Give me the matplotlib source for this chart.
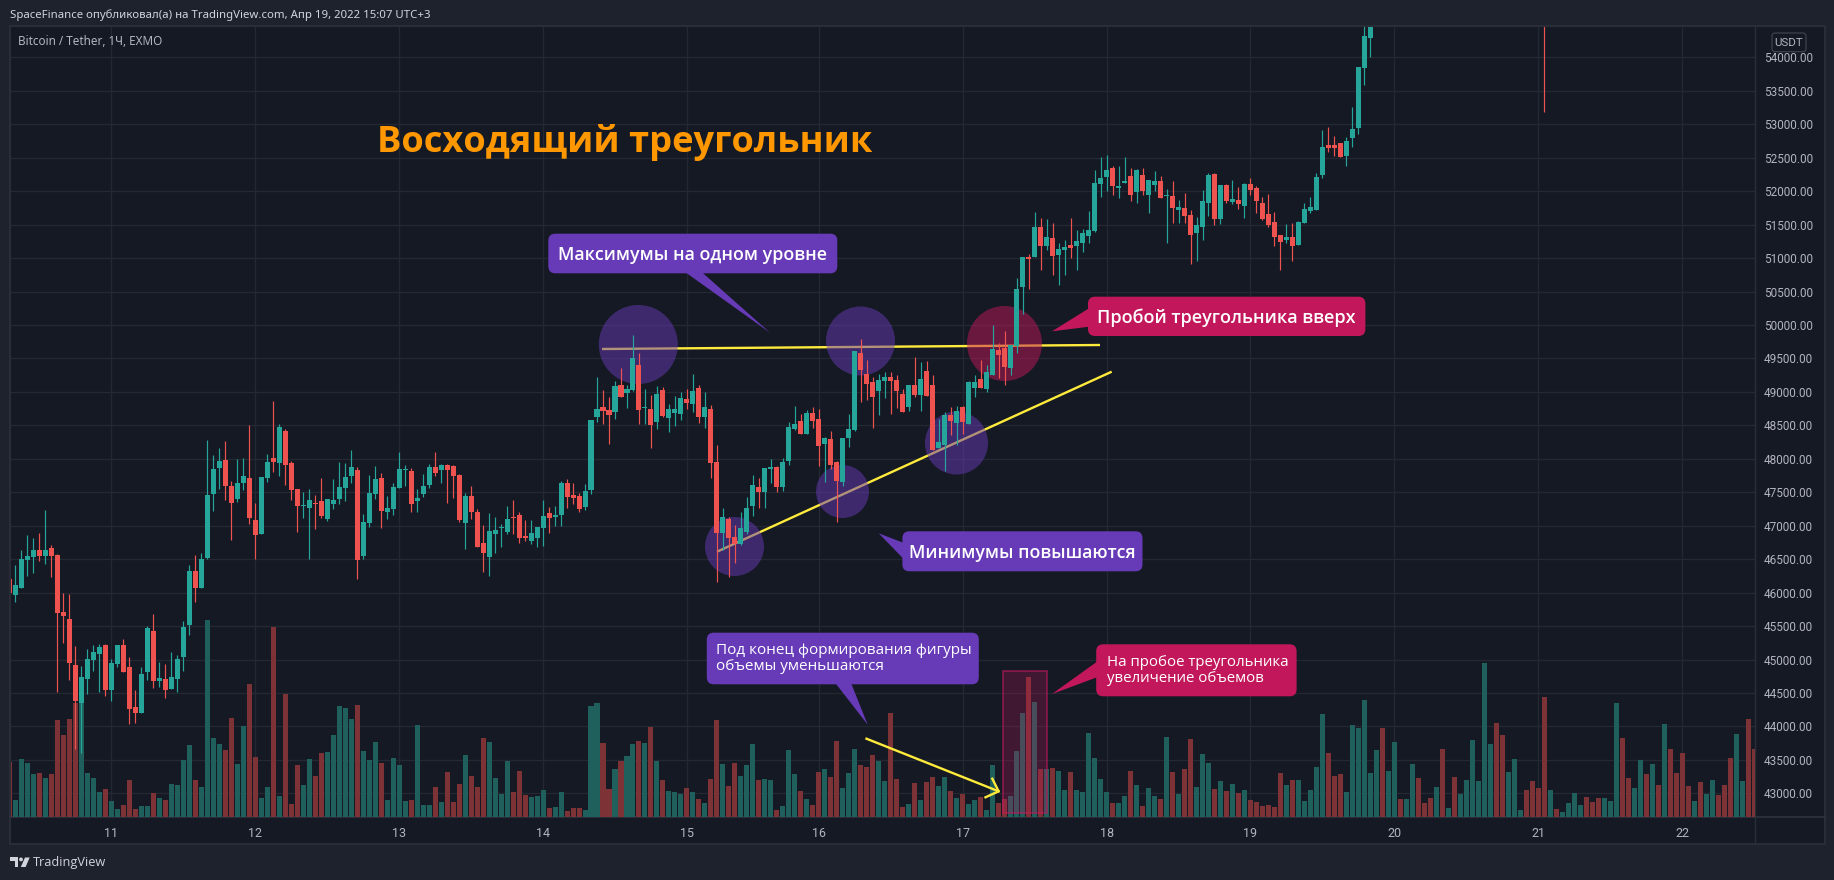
import matplotlib
matplotlib.use("Agg")
import matplotlib.pyplot as plt
from matplotlib.patches import FancyBboxPatch, Polygon, Ellipse, Rectangle, Circle
import numpy as np

# ---------- data ----------
directions = ("RGGGGRGRRR" "RRGGGGRGGR" "RRGGRGRGGG" "GRGGGGRRGG" "RRGGRGRRRG" "GRRGGGGGRG" "GGRGGGGRGG"
              "GRGRRRGRRR" "GGGGRRRGGG" "RGGRRRGGGR" "RGRGGRGRGR" "GGGRGRGRRG" "RRGGGRGGRG" "GGRGRRGRRG"
              "GGRRRGGRRR" "GRGRRGGRGR" "GGRGGRRGGG" "RGRGRGGRGG" "GGGGRGGRGR" "GGRGRGRRGG" "GRGRGRGRRR"
              "RRRGRGGGGG" "RRRGGGGGGR" "GGRGGRRRGR" "GRGGGGGGRR" "GGGRRRRGRG" "GGGRRRGGGR" "RGGRGRGRRR"
              "RGRGGRRRGG" "RR")

highs = [46204,46413,46637,46861,46816,46891,47235,46712,46577,45995,
         45980,45203,44904,45158,45218,45233,45233,45009,45218,45307,
         45038,44545,44889,45502,45681,44964,44934,45113,45068,45576,
         46413,46562,46592,48280,48056,48161,48265,47668,47997,48012,
         48505,47339,47728,48071,48863,48519,48445,47967,47548,47503,
         47548,47459,47713,47399,47698,47952,47937,48131,47877,47175,
         47757,47892,47787,47444,47638,48101,47907,47862,47548,47772,
         47922,48101,47922,47922,47907,47772,47489,47593,47250,47010,
         47190,47130,47025,47294,47384,47205,47085,47085,46981,47384,
         47279,47294,47668,47698,47638,47489,47623,48578,49221,49027,
         48922,49161,49355,49101,49848,49579,49042,48952,49086,49071,
         48817,48937,48997,49042,49266,49101,48997,48803,48205,47264,
         47129,47010,47204,47428,47757,47712,47861,47996,47891,48011,
         48549,48788,48668,48728,48773,48743,48324,48414,47966,48309,
         48668,49609,49789,49475,49221,49266,49296,49300,49255,49046,
         49106,49524,49450,49465,49255,48598,48703,48777,48792,48792,
         49166,49255,49479,49405,50002,49733,49913,49703,50704,51011,
         51056,51683,51594,51579,51519,51220,51265,51594,51414,51429,
         51698,52311,52505,52535,52371,52371,52505,52341,52326,52341,
         52161,52296,52221,52027,52147,51863,51967,51713,51609,52012,
         52266,52266,52087,52102,52161,52057,52117,52191,52072,51908,
         51952,51683,51340,51504,51519,51549,51818,51908,52266,52915,
         52959,52825,52720,52810,53258,53856,54600,54700]
body_highs = [46204,46114,46503,46547,46637,46637,46637,46667,46562,45711,
              45606,44919,44740,45009,45113,45188,45218,44949,45218,45218,
              44889,44291,44784,45472,45427,44725,44710,44740,45009,45487,
              46323,46323,46503,47459,47847,47967,47982,47593,47638,47743,
              47713,47085,47728,47952,48012,48475,48415,47937,47548,47309,
              47384,47339,47369,47399,47384,47578,47728,47877,47832,47055,
              47489,47698,47713,47264,47578,47847,47847,47817,47414,47593,
              47877,47877,47907,47907,47892,47757,47444,47444,47205,46742,
              46921,46936,46981,47100,47130,47160,46846,46891,46981,47145,
              47190,47160,47638,47638,47459,47444,47518,48578,48743,48773,
              48728,49086,49101,49042,49505,49400,48773,48743,48967,49027,
              48743,48743,48907,48892,49012,49057,48773,48743,47951,47129,
              47099,46830,46965,47264,47607,47577,47861,47876,47876,47951,
              48474,48519,48563,48683,48683,48593,48309,48295,47951,48309,
              48444,49609,49579,49266,49146,49176,49221,49225,49181,48971,
              49106,49106,49196,49315,49106,48254,48658,48658,48717,48777,
              49151,49151,49196,49300,49644,49629,49659,49703,50540,51011,
              51011,51459,51459,51310,51295,51131,51160,51190,51250,51370,
              51414,52117,52191,52311,52341,52072,52147,52221,52311,52236,
              52161,52147,52147,51937,51922,51758,51743,51639,51489,51848,
              52236,52251,52087,52087,51878,51863,52102,52102,52042,51818,
              51654,51534,51340,51310,51310,51534,51728,51758,52206,52661,
              52690,52690,52720,52750,52930,53856,54319,54500]
body_lows = [45995,45965,46069,46488,46532,46547,46547,46547,45696,45651,
             44949,44381,44351,44710,44994,45083,44545,44545,44934,44814,
             44262,44202,44202,44814,44680,44680,44545,44560,44710,45038,
             45516,46069,46069,46517,47474,47862,47593,47339,47399,47638,
             47115,46861,46876,47713,47952,47937,47907,47533,47294,47294,
             47264,47324,47145,47100,47324,47399,47563,47743,46488,46547,
             47040,47474,47220,47205,47250,47563,47832,47324,47369,47474,
             47608,47787,47832,47832,47743,47085,47040,47205,46682,46592,
             46532,46876,46966,46906,47115,46816,46816,46771,46816,46966,
             47115,47130,47160,47429,47414,47250,47279,47533,48623,48713,
             48653,48698,48922,48982,49027,48728,48758,48504,48549,48638,
             48608,48683,48668,48832,48817,48623,48623,47936,46890,46890,
             46815,46726,46726,46905,47294,47503,47503,47846,47577,47577,
             47966,48444,48369,48369,48563,48190,48220,47906,47667,47652,
             48309,48429,49325,49116,48922,49012,49161,49166,49016,48703,
             48777,48957,48957,48942,48135,48165,48210,48568,48538,48553,
             48523,49061,49061,49046,49255,49554,49375,49360,49689,50563,
             50981,51011,51175,51175,51026,51041,51116,51146,51175,51220,
             51325,51400,52102,52206,52072,52042,52117,51937,51982,51997,
             51937,52087,51893,51922,51743,51713,51624,51340,51370,51459,
             51818,51579,51579,51848,51833,51803,51773,52012,51848,51579,
             51489,51310,51235,51265,51175,51190,51519,51698,51713,52242,
             52646,52646,52511,52526,52795,52944,53841,54289]
lows = [45995,45860,46069,46249,46293,46473,46428,46234,44516,45248,
        44695,43664,43604,44486,44829,44516,44456,44381,44889,44814,
        44037,44052,44202,44695,44575,44590,44426,44560,44516,44829,
        45367,45860,46069,46503,47220,47548,47384,46786,47354,47533,
        47025,46503,46876,47653,47802,47743,47608,47384,46906,47115,
        46503,46951,47115,47070,47250,47324,47369,47638,46204,46503,
        46981,47399,46966,47100,47160,47563,47593,47205,47205,47429,
        47563,47743,47638,47339,47414,47055,46652,47100,46682,46308,
        46249,46592,46682,46876,46876,46742,46771,46727,46682,46697,
        46891,46996,46996,47264,47324,47205,47235,47473,48549,48519,
        48220,48593,48922,48758,49012,48519,48519,48160,48444,48623,
        48399,48489,48578,48743,48698,48534,48459,47712,46158,46636,
        46233,46442,46711,46875,47144,47264,47264,47637,47503,47518,
        47906,48429,48369,48369,48459,47891,47652,47846,47055,47592,
        48175,48414,48847,48877,48459,48653,48907,48673,48762,48703,
        48717,48927,48717,48942,48135,48165,47821,48359,48210,48374,
        48523,48927,49061,49001,49255,49210,49106,49255,49584,50167,
        50533,51011,50817,51116,50742,50593,50742,50996,50817,51086,
        51220,51385,51908,51997,51937,51893,52117,51848,51818,51937,
        51668,51997,51893,51220,51519,51519,51519,50906,50951,51265,
        51624,51489,51504,51818,51803,51728,51594,51937,51668,51564,
        51459,51175,50817,51220,50951,51190,51519,51668,51713,52197,
        52586,52526,52511,52377,52661,52855,53587,54005]

# one later candle, body off the scale, only its lower wick in view
late_candle_index = 256
late_candle_high = 55800
late_candle_low = 53190

# volume read as relative heights (the chart shows no volume scale)
volumes = [166,52,175,163,130,133,118,130,292,247,295,342,352,133,118,76,85,49,25,37,
           112,25,34,34,73,58,52,100,97,172,217,112,91,592,238,220,202,298,160,274,
           400,181,58,91,571,64,370,40,157,97,175,124,193,196,247,334,328,295,337,199,
           172,226,163,52,178,157,49,52,277,37,37,91,46,136,46,100,187,124,91,238,
           226,118,70,169,76,139,67,61,64,82,28,31,76,19,28,28,22,334,343,223,
           85,145,169,184,220,229,223,271,169,112,79,76,70,88,76,55,43,115,292,160,
           94,163,124,157,220,112,115,112,22,34,202,130,79,55,37,136,145,121,229,88,
           133,205,157,151,187,169,109,313,115,31,40,103,52,106,121,94,121,79,58,70,
           40,52,61,22,157,43,55,64,199,313,421,346,145,145,148,139,82,136,82,76,
           253,178,115,76,43,43,64,139,97,34,88,64,55,241,136,70,145,235,91,190,
           163,85,109,79,100,73,82,52,46,34,37,31,133,97,112,112,49,82,151,310,
           193,124,130,76,277,268,352,133,202,268,139,226,55,55,160,118,43,58,91,205,
           28,121,70,112,232,109,463,220,283,247,136,175,22,82,109,88,361,82,25,16,
           43,73,37,61,46,58,58,49,343,238,118,88,172,130,160,97,280,205,133,193,
           94,49,106,70,112,67,97,178,250,109,295,205]
volume_axis_max = 2371

price_ticks = [43000 + 500 * k for k in range(23)]
day_labels = ["11", "12", "13", "14", "15", "16", "17", "18", "19", "20", "21", "22"]
day_bar_index = [17, 41, 65, 89, 113, 135, 159, 183, 207, 231, 255, 279]

title_text = "Восходящий треугольник"
header_text = "SpaceFinance опубликовал(а) на TradingView.com, Апр 19, 2022 15:07 UTC+3"
symbol_text = "Bitcoin / Tether, 1Ч, EXMO"

# ---------- style ----------
UP, DOWN = "#26a69a", "#ef5350"
VOL_UP, VOL_DOWN = "#1f5f5c", "#7d3335"
OUTER, PANE, GRID, EDGE = "#1e222d", "#151924", "#242833", "#2a2e39"
PURPLE, PINK, YELLOW = "#673ab7", "#c2185b", "#ffeb3b"
W, H = 1834, 880
plot_l, plot_r, plot_t, plot_b = 10.5, 1754.5, 27.0, 817.3
bar_x0, bar_dx = 9.5, 5.995
px_per_price = 0.06692
price_top = 54000 + (57.3 - plot_t) / px_per_price
price_bot = 43000 - (plot_b - 793.4) / px_per_price
xlim = ((plot_l - bar_x0) / bar_dx, (plot_r - bar_x0) / bar_dx)
TXT = "Open Sans"
PXPT = 0.72

fig = plt.figure(figsize=(W / 100, H / 100), dpi=100, facecolor=OUTER)

def full_axes(z):
    a = fig.add_axes([0, 0, 1, 1], zorder=z)
    a.set_xlim(0, W); a.set_ylim(H, 0); a.axis("off"); a.patch.set_alpha(0)
    return a

def plot_axes(z):
    a = fig.add_axes([plot_l / W, 1 - plot_b / H, (plot_r - plot_l) / W, (plot_b - plot_t) / H], zorder=z)
    a.set_xlim(*xlim); a.patch.set_alpha(0)
    return a

# frame
frame = full_axes(0)
frame.add_patch(Rectangle((9.5, 26.5), 1815, 818, fc=PANE, ec=EDGE, lw=1.4))
frame.plot([9.5, 1824.5], [817.3, 817.3], color="#2f3340", lw=1.2)
frame.plot([1754.5, 1754.5], [26.5, 844.5], color="#2a2e39", lw=1.0)

# base: grid and tick labels
base = plot_axes(1)
base.set_ylim(price_bot, price_top)
base.set_yticks(price_ticks)
base.set_yticklabels([f"{p:.2f}" for p in price_ticks])
base.yaxis.tick_right()
base.set_xticks(day_bar_index)
base.set_xticklabels(day_labels)
base.tick_params(axis="y", length=0, pad=6.8, colors="#b2b5be", labelsize=8.5)
base.tick_params(axis="x", length=0, pad=6.8, colors="#b2b5be", labelsize=9)
for lab in base.get_xticklabels() + base.get_yticklabels():
    lab.set_family("Roboto")
base.grid(True, color=GRID, lw=1.0)
base.set_axisbelow(True)
for s in base.spines.values():
    s.set_visible(False)

# volume
vol = plot_axes(2)
vol.axis("off")
vol.set_ylim(0, volume_axis_max)
vol_x = np.arange(len(volumes))
vol.bar(vol_x, volumes, width=0.84, linewidth=0,
        color=[VOL_UP if d == "G" else VOL_DOWN for d in directions])

# drawings under the candles
under = full_axes(3)
under.plot([602, 1100], [349, 345], color=YELLOW, lw=1.7, solid_capstyle="butt", zorder=2)
under.plot([717, 1111.7], [551.7, 371.7], color=YELLOW, lw=1.7, solid_capstyle="butt", zorder=2)
circles = [(638.3, 344.5, 39.5, PURPLE), (860.5, 341, 34.5, PURPLE), (1004.5, 343.5, 37.5, PINK),
           (734.5, 546.5, 29.5, PURPLE), (842.5, 491.5, 26.5, PURPLE), (956.5, 443, 31.5, PURPLE)]
for cx, cy, r, c in circles:
    under.add_patch(Ellipse((cx, cy), 2 * r, 2 * r, fc=c, ec="none", alpha=0.5, zorder=3))

# candles
cand = plot_axes(4)
cand.axis("off")
cand.set_ylim(price_bot, price_top)
n = len(highs)
x = np.arange(n)
colors = [UP if d == "G" else DOWN for d in directions[:n]]
cand.vlines(x, lows, highs, colors=colors, lw=0.85)
cand.bar(x, np.array(body_highs) - np.array(body_lows), bottom=body_lows, width=0.84,
         color=colors, linewidth=0)
cand.vlines([late_candle_index], [late_candle_low], [late_candle_high], colors=[DOWN], lw=0.85)

# annotations
top = full_axes(5)

def callout(x0, y0, x1, y1, tail, color):
    top.add_patch(Polygon(tail, closed=True, fc=color, ec="none"))
    top.add_patch(FancyBboxPatch((x0 + 6, y0 + 6), x1 - x0 - 12, y1 - y0 - 12,
                                 boxstyle="round,pad=6,rounding_size=7", fc=color, ec="none"))

callout(548.3, 233.7, 837.3, 273.3, [(685, 272), (701.7, 272), (770, 332.7)], PURPLE)
callout(902.4, 531.3, 1142.5, 571.3, [(903, 542.7), (903, 558.3), (878.7, 533.3)], PURPLE)
callout(1088, 296.7, 1365.4, 336, [(1089, 308.3), (1089, 326.7), (1052, 331.3)], PINK)
callout(706.8, 632.7, 978.8, 684.3, [(835.3, 683), (851, 683), (867.7, 724.7)], PURPLE)
callout(1096.2, 644.3, 1296.6, 696.3, [(1097, 661.7), (1097, 677.3), (1052, 694)], PINK)

def label(px, py, s, size_px, ha="center", color="white", weight=600, family=TXT):
    top.text(px, py, s, fontsize=size_px * PXPT, ha=ha, va="center", color=color,
             fontweight=weight, family=family)

label(692.8, 255, "Максимумы на одном уровне", 17.9)
label(1022.5, 553, "Минимумы повышаются", 17.7)
label(1226.7, 317.5, "Пробой треугольника вверх", 18)
label(716, 650, "Под конец формирования фигуры", 15.3, ha="left", weight=500)
label(716, 666, "объемы уменьшаются", 15.3, ha="left", weight=500)
label(1107, 662, "На пробое треугольника", 15.0, ha="left", weight=500)
label(1107, 678, "увеличение объемов", 15.0, ha="left", weight=500)
label(377, 142.5, title_text, 36.3, ha="left", color="#ff9800", weight=700)

# volume box and arrow
top.add_patch(Rectangle((1003.3, 670.7), 43.9, 142.6, fc=PINK, alpha=0.25, ec="none"))
top.add_patch(Rectangle((1003.3, 670.7), 43.9, 142.6, fc="none", ec=PINK, alpha=0.55, lw=1.4))
top.plot([866.5, 998.6], [738.7, 791.3], color=YELLOW, lw=1.7)
top.plot([992.3, 998.6, 985.5], [778.7, 791.3, 797.3], color=YELLOW, lw=1.7)

# chrome
top.text(10, 15, header_text, fontsize=11.4 * PXPT, color="#d1d4dc", va="center", family="Noto Sans")
top.text(17.7, 41.7, symbol_text, fontsize=11.7 * PXPT, color="#b2b5be", va="center", family="Noto Sans")
top.add_patch(FancyBboxPatch((1774, 35), 30, 14.7, boxstyle="round,pad=2,rounding_size=3",
                             fc=PANE, ec="#434651", lw=0.8))
top.text(1789, 42.5, "USDT", fontsize=11.5 * PXPT, color="#b2b5be", ha="center", va="center", family="Roboto")

LOGO = "#d1d4dc"
top.add_patch(Polygon([(10, 857.5), (18, 857.5), (18, 867), (14.5, 867), (14.5, 861), (10, 861)], fc=LOGO, ec="none"))
top.add_patch(Circle((21, 859.4), 1.9, fc=LOGO, ec="none"))
top.add_patch(Polygon([(25, 857.5), (29.7, 857.5), (25.6, 867), (20.8, 867)], fc=LOGO, ec="none"))
top.text(33, 862.5, "TradingView", fontsize=12.7 * PXPT, color="#d1d4dc", va="center", family="Open Sans", fontweight=500)

fig.savefig("out.png", dpi=100, facecolor=OUTER)
